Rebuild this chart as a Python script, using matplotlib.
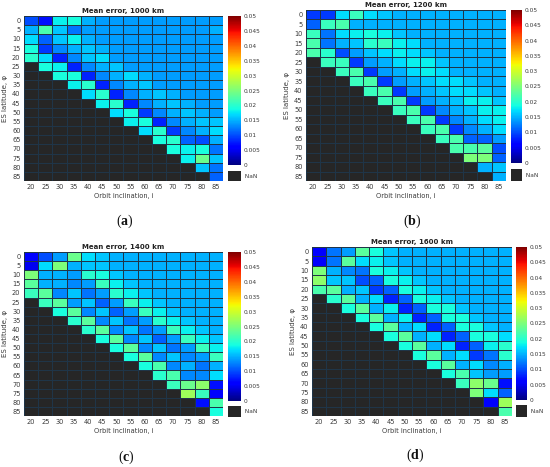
import numpy as np
import matplotlib
matplotlib.use('Agg')
import matplotlib.pyplot as plt
from matplotlib.colors import Normalize
from matplotlib.cm import ScalarMappable

plt.rcParams['font.family'] = ['DejaVu Sans']
plt.rcParams['mathtext.fontset'] = 'custom'
plt.rcParams['mathtext.rm'] = 'Liberation Serif'
plt.rcParams['mathtext.bf'] = 'Liberation Serif:bold'

inclinations = [20, 25, 30, 35, 40, 45, 50, 55, 60, 65, 70, 75, 80, 85]
latitudes = [0, 5, 10, 15, 20, 25, 30, 35, 40, 45, 50, 55, 60, 65, 70, 75, 80, 85]
cbar_ticks = [0, 0.005, 0.01, 0.015, 0.02, 0.025, 0.03, 0.035, 0.04, 0.045, 0.05]
cbar_labels = ['0', '0.005', '0.01', '0.015', '0.02', '0.025', '0.03', '0.035', '0.04', '0.045', '0.05']
titles = ['Mean error, 1000 km', 'Mean error, 1200 km', 'Mean error, 1400 km', 'Mean error, 1600 km']
captions = ['a', 'b', 'c', 'd']

# each row lists the valid cells (latitude <= inclination), right-aligned to 85 deg
err_1000 = [
    [0.010, 0.007, 0.018, 0.019, 0.015, 0.014, 0.014, 0.014, 0.014, 0.014, 0.014, 0.014, 0.014, 0.014],
    [0.015, 0.022, 0.016, 0.012, 0.014, 0.014, 0.014, 0.014, 0.014, 0.014, 0.014, 0.014, 0.014, 0.015],
    [0.017, 0.011, 0.016, 0.018, 0.015, 0.014, 0.014, 0.014, 0.014, 0.014, 0.014, 0.014, 0.014, 0.014],
    [0.019, 0.009, 0.013, 0.015, 0.016, 0.015, 0.014, 0.014, 0.014, 0.014, 0.014, 0.014, 0.014, 0.014],
    [0.020, 0.017, 0.008, 0.013, 0.016, 0.017, 0.014, 0.014, 0.014, 0.014, 0.014, 0.014, 0.014, 0.014],
    [0.019, 0.018, 0.008, 0.013, 0.015, 0.016, 0.014, 0.014, 0.014, 0.014, 0.014, 0.014, 0.014],
    [0.019, 0.019, 0.008, 0.013, 0.015, 0.017, 0.015, 0.014, 0.014, 0.014, 0.014, 0.014],
    [0.018, 0.020, 0.008, 0.013, 0.015, 0.016, 0.014, 0.014, 0.014, 0.014, 0.014],
    [0.017, 0.020, 0.008, 0.013, 0.015, 0.016, 0.015, 0.014, 0.014, 0.014],
    [0.018, 0.020, 0.008, 0.013, 0.015, 0.016, 0.015, 0.014, 0.014],
    [0.017, 0.019, 0.009, 0.013, 0.015, 0.016, 0.015, 0.014],
    [0.018, 0.019, 0.008, 0.013, 0.015, 0.016, 0.016],
    [0.017, 0.020, 0.009, 0.013, 0.015, 0.017],
    [0.019, 0.020, 0.011, 0.010, 0.015],
    [0.019, 0.018, 0.019, 0.012],
    [0.018, 0.024, 0.016],
    [0.016, 0.012],
    [0.011],
]

err_1200 = [
    [0.009, 0.009, 0.017, 0.021, 0.017, 0.016, 0.015, 0.015, 0.015, 0.015, 0.015, 0.015, 0.015, 0.015],
    [0.011, 0.021, 0.022, 0.015, 0.015, 0.015, 0.015, 0.015, 0.015, 0.015, 0.015, 0.015, 0.015, 0.015],
    [0.021, 0.012, 0.017, 0.018, 0.019, 0.018, 0.016, 0.015, 0.015, 0.015, 0.015, 0.015, 0.015, 0.015],
    [0.022, 0.012, 0.015, 0.016, 0.020, 0.021, 0.018, 0.017, 0.015, 0.015, 0.015, 0.015, 0.015, 0.015],
    [0.022, 0.020, 0.010, 0.014, 0.016, 0.017, 0.018, 0.017, 0.016, 0.015, 0.015, 0.015, 0.015, 0.015],
    [0.021, 0.021, 0.009, 0.014, 0.015, 0.017, 0.018, 0.018, 0.016, 0.015, 0.015, 0.015, 0.015],
    [0.021, 0.022, 0.009, 0.014, 0.015, 0.017, 0.018, 0.017, 0.015, 0.015, 0.015, 0.015],
    [0.021, 0.022, 0.009, 0.014, 0.015, 0.016, 0.017, 0.017, 0.016, 0.015, 0.015],
    [0.021, 0.022, 0.009, 0.014, 0.015, 0.016, 0.017, 0.017, 0.016, 0.015],
    [0.021, 0.022, 0.009, 0.014, 0.015, 0.016, 0.018, 0.018, 0.016],
    [0.021, 0.022, 0.009, 0.013, 0.015, 0.016, 0.018, 0.018],
    [0.021, 0.022, 0.009, 0.013, 0.015, 0.017, 0.018],
    [0.021, 0.022, 0.009, 0.013, 0.015, 0.017],
    [0.021, 0.022, 0.011, 0.011, 0.014],
    [0.022, 0.022, 0.023, 0.010],
    [0.025, 0.025, 0.011],
    [0.015, 0.016],
    [0.015],
]

err_1400 = [
    [0.006, 0.010, 0.014, 0.024, 0.017, 0.016, 0.015, 0.015, 0.015, 0.015, 0.015, 0.015, 0.015, 0.015],
    [0.005, 0.017, 0.025, 0.015, 0.016, 0.016, 0.015, 0.015, 0.015, 0.015, 0.015, 0.015, 0.015, 0.015],
    [0.025, 0.015, 0.015, 0.014, 0.020, 0.019, 0.016, 0.015, 0.015, 0.015, 0.015, 0.015, 0.015, 0.015],
    [0.023, 0.015, 0.015, 0.013, 0.014, 0.021, 0.018, 0.016, 0.015, 0.015, 0.015, 0.015, 0.015, 0.015],
    [0.021, 0.023, 0.013, 0.016, 0.012, 0.014, 0.020, 0.018, 0.016, 0.015, 0.015, 0.015, 0.015, 0.015],
    [0.021, 0.023, 0.014, 0.016, 0.011, 0.014, 0.021, 0.018, 0.016, 0.015, 0.015, 0.015, 0.015],
    [0.019, 0.023, 0.013, 0.016, 0.011, 0.014, 0.021, 0.018, 0.016, 0.015, 0.015, 0.015],
    [0.020, 0.023, 0.013, 0.016, 0.012, 0.014, 0.020, 0.018, 0.016, 0.015, 0.015],
    [0.020, 0.023, 0.013, 0.016, 0.012, 0.014, 0.021, 0.018, 0.016, 0.015],
    [0.019, 0.023, 0.013, 0.016, 0.011, 0.014, 0.021, 0.018, 0.016],
    [0.019, 0.023, 0.013, 0.016, 0.012, 0.014, 0.021, 0.018],
    [0.019, 0.023, 0.013, 0.016, 0.013, 0.014, 0.021],
    [0.019, 0.022, 0.013, 0.015, 0.012, 0.015],
    [0.020, 0.022, 0.013, 0.013, 0.017],
    [0.021, 0.024, 0.026, 0.007],
    [0.027, 0.021, 0.006],
    [0.007, 0.022],
    [0.019],
]

err_1600 = [
    [0.006, 0.012, 0.014, 0.023, 0.019, 0.016, 0.015, 0.015, 0.015, 0.015, 0.015, 0.015, 0.015, 0.015],
    [0.006, 0.012, 0.023, 0.017, 0.018, 0.016, 0.015, 0.015, 0.015, 0.015, 0.015, 0.015, 0.015, 0.015],
    [0.025, 0.015, 0.013, 0.012, 0.019, 0.018, 0.016, 0.015, 0.015, 0.015, 0.015, 0.015, 0.015, 0.015],
    [0.026, 0.016, 0.016, 0.010, 0.011, 0.019, 0.018, 0.016, 0.015, 0.015, 0.015, 0.015, 0.015, 0.015],
    [0.022, 0.023, 0.015, 0.016, 0.009, 0.011, 0.019, 0.018, 0.016, 0.015, 0.015, 0.015, 0.015, 0.015],
    [0.020, 0.023, 0.015, 0.017, 0.008, 0.011, 0.019, 0.018, 0.016, 0.015, 0.015, 0.015, 0.015],
    [0.019, 0.023, 0.015, 0.018, 0.008, 0.011, 0.019, 0.019, 0.016, 0.015, 0.015, 0.015],
    [0.019, 0.023, 0.015, 0.018, 0.008, 0.011, 0.019, 0.019, 0.016, 0.015, 0.015],
    [0.019, 0.023, 0.015, 0.017, 0.008, 0.011, 0.019, 0.019, 0.016, 0.015],
    [0.019, 0.023, 0.015, 0.017, 0.008, 0.011, 0.019, 0.019, 0.017],
    [0.019, 0.023, 0.015, 0.017, 0.008, 0.011, 0.018, 0.020],
    [0.019, 0.023, 0.015, 0.017, 0.009, 0.012, 0.020],
    [0.019, 0.023, 0.015, 0.017, 0.013, 0.015],
    [0.019, 0.022, 0.016, 0.014, 0.014],
    [0.021, 0.026, 0.024, 0.007],
    [0.025, 0.017, 0.011],
    [0.006, 0.027],
    [0.022],
]

panels = [err_1000, err_1200, err_1400, err_1600]

# layout in figure fractions: heatmap, colorbar, nan-box, caption position
layout = [
    dict(hm=[0.0436, 0.6124, 0.3618, 0.3533], cb=[0.4145, 0.6467, 0.0236, 0.3190],
         nb=[0.4145, 0.6124, 0.0236, 0.0214], cap=(0.226, 0.527)),
    dict(hm=[0.5564, 0.6124, 0.3636, 0.3662], cb=[0.9290, 0.6510, 0.0200, 0.3276],
         nb=[0.9290, 0.6124, 0.0200, 0.0257], cap=(0.749, 0.525)),
    dict(hm=[0.0436, 0.1092, 0.3618, 0.3512], cb=[0.4145, 0.1413, 0.0236, 0.3190],
         nb=[0.4145, 0.1070, 0.0236, 0.0236], cap=(0.229, 0.021)),
    dict(hm=[0.5673, 0.1092, 0.3636, 0.3619], cb=[0.9382, 0.1435, 0.0200, 0.3276],
         nb=[0.9382, 0.1070, 0.0200, 0.0257], cap=(0.755, 0.026)),
]

NAN_COLOR = '#262626'
TXT = '#3a3a3a'
cmap = plt.get_cmap('jet').copy()
cmap.set_bad(NAN_COLOR)
norm = Normalize(vmin=0, vmax=0.05)


def to_matrix(rows):
    M = np.full((len(latitudes), len(inclinations)), np.nan)
    for r, row in enumerate(rows):
        M[r, len(inclinations) - len(row):] = row
    return M


fig = plt.figure(figsize=(5.5, 4.67), dpi=100)

for rows, title, letter, lay in zip(panels, titles, captions, layout):
    M = to_matrix(rows)
    ax = fig.add_axes(lay['hm'])
    ax.set_facecolor(NAN_COLOR)
    ax.pcolormesh(np.arange(len(inclinations) + 1), np.arange(len(latitudes) + 1),
                  np.ma.masked_invalid(M), cmap=cmap, norm=norm,
                  edgecolors='#1f3548', linewidth=0.5)
    ax.set_xlim(0, len(inclinations))
    ax.set_ylim(len(latitudes), 0)
    ax.set_xticks(np.arange(len(inclinations)) + 0.5)
    ax.set_xticklabels([str(v) for v in inclinations])
    ax.set_yticks(np.arange(len(latitudes)) + 0.5)
    ax.set_yticklabels([str(v) for v in latitudes])
    ax.tick_params(length=0, labelsize=4.8, colors=TXT, pad=2.5)
    for s in ax.spines.values():
        s.set_visible(False)
    ax.set_title(title, fontsize=5.0, fontweight='bold', color='#222222', pad=2)
    ax.set_xlabel('Orbit inclination, i', fontsize=4.8, color=TXT, labelpad=2)
    ax.set_ylabel('ES latitude, \u03c6', fontsize=5.0, color=TXT, labelpad=3)

    cax = fig.add_axes(lay['cb'])
    cb = fig.colorbar(ScalarMappable(norm=norm, cmap=cmap), cax=cax)
    cb.outline.set_visible(False)
    cb.set_ticks(cbar_ticks)
    cb.set_ticklabels(cbar_labels)
    cax.tick_params(length=0, labelsize=4.2, colors=TXT, pad=2)

    nax = fig.add_axes(lay['nb'])
    nax.set_facecolor(NAN_COLOR)
    nax.set_xticks([])
    nax.set_yticks([])
    for s in nax.spines.values():
        s.set_visible(False)
    nax.text(1.0, 0.5, '  NaN', transform=nax.transAxes, ha='left', va='center',
             fontsize=4.2, color=TXT)

    cx, cy = lay['cap']
    fig.text(cx, cy, '(' + r'$\mathbf{' + letter + r'}$' + ')', ha='center', va='center',
             fontsize=10, family='Liberation Serif', color='#111111')

fig.savefig('out.png', dpi=100, facecolor='white')
